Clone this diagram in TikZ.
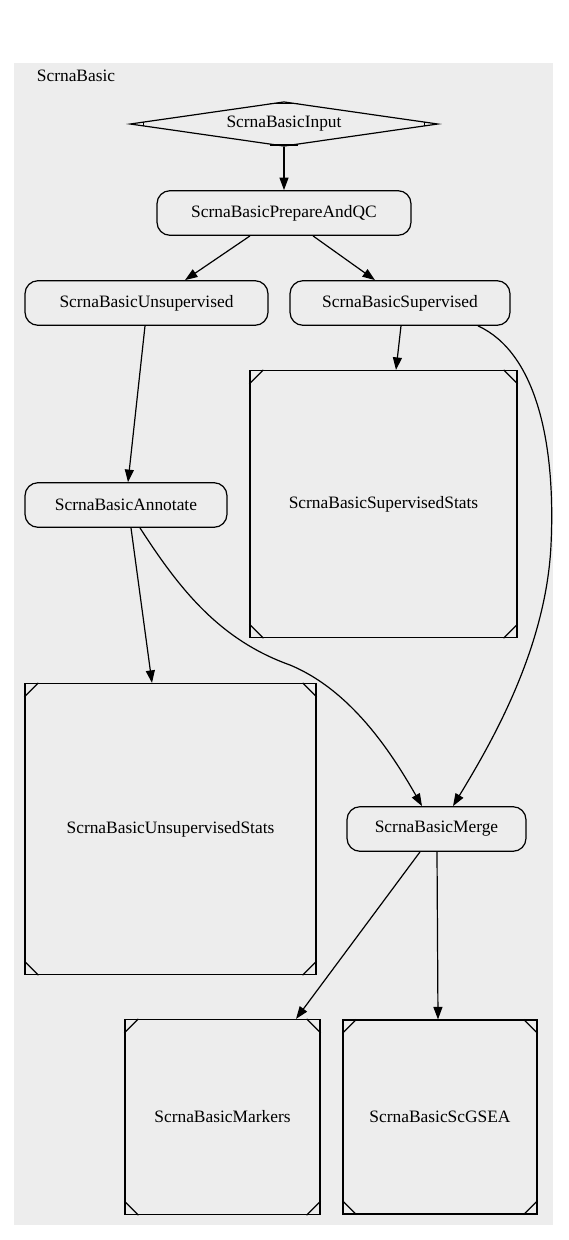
\documentclass[tikz,border=0pt]{standalone}
\usepackage{fontspec}
\setmainfont{Liberation Serif}
\usetikzlibrary{arrows.meta,shapes.geometric}
\definecolor{clusterbg}{RGB}{237,237,237}

%% corner ticks of the "Msquare" and "Mdiamond" boxes
\def\msquareticks#1{%
    \draw (#1.north west) ++(14,0) -- ++(-14,14);
    \draw (#1.north east) ++(-14,0) -- ++(14,14);
    \draw (#1.south west) ++(14,0) -- ++(-14,-14);
    \draw (#1.south east) ++(-14,0) -- ++(14,-14);}
\def\mdiamondticks#1{%
    \draw (#1.north) ++(-14,2) -- ++(28,0);
    \draw (#1.south) ++(-14,-2) -- ++(28,0);
    \draw (#1.west) ++(14,-2) -- ++(0,4);
    \draw (#1.east) ++(-14,-2) -- ++(0,4);}

\begin{document}
\begin{tikzpicture}[x=1pt,y=-1pt,line width=1.2pt,
    font=\fontsize{17.4}{20}\selectfont,
    task/.style={draw, rectangle, rounded corners=13pt, minimum height=44.6pt, inner sep=0pt},
    statbox/.style={draw, rectangle, inner sep=0pt},
    flow/.style={-{Triangle[length=12.5pt 0 0,width=9pt 0 0]}}]
    \useasboundingbox (0,0) rectangle (568,1240);

    %% The cluster
    \fill[clusterbg] (14,63) rectangle (553,1225);
    \draw (76,76) node (cluster) {ScrnaBasic};

    %% Input and first steps
    \draw (284,124) node [diamond, draw, aspect=6.9, minimum width=308pt, minimum height=44.6pt, inner sep=0pt] (input) {ScrnaBasicInput};
    \mdiamondticks{input}
    \draw (284,213) node [task, minimum width=254pt] (prepqc) {ScrnaBasicPrepareAndQC};
    \draw (146.5,303) node [task, minimum width=243pt] (unsup) {ScrnaBasicUnsupervised};
    \draw (400,303) node [task, minimum width=220pt] (sup) {ScrnaBasicSupervised};

    %% Middle ranks
    \draw (383.5,504) node [statbox, minimum size=267pt] (supstats) {ScrnaBasicSupervisedStats};
    \msquareticks{supstats}
    \draw (126,505) node [task, minimum width=202pt] (annot) {ScrnaBasicAnnotate};
    \draw (170.5,829) node [statbox, minimum size=291pt] (unsupstats) {ScrnaBasicUnsupervisedStats};
    \msquareticks{unsupstats}
    \draw (436.5,829) node [task, minimum width=179pt] (merge) {ScrnaBasicMerge};

    %% Last rank
    \draw (222.5,1117) node [statbox, minimum size=195pt] (markers) {ScrnaBasicMarkers};
    \msquareticks{markers}
    \draw (440,1117) node [statbox, minimum size=194pt] (scgsea) {ScrnaBasicScGSEA};
    \msquareticks{scgsea}

    %% Edges
    \path [flow] (input) edge (prepqc);
    \path [flow] ([xshift=-34pt]prepqc.south) edge ([xshift=38.5pt]unsup.north);
    \path [flow] ([xshift=29pt]prepqc.south) edge ([xshift=-25pt]sup.north);
    \path [flow] ([xshift=-1.5pt]unsup.south) edge ([xshift=2pt]annot.north);
    \path [flow] ([xshift=1pt]sup.south) edge ([xshift=12.5pt]supstats.north);
    \draw [flow] ([xshift=78pt]sup.south) .. controls (535,352) and (556,440) .. (551,545)
        .. controls (546,650) and (490,745) .. ([xshift=16.5pt]merge.north);
    \path [flow] ([xshift=5pt]annot.south) edge ([xshift=-18.5pt]unsupstats.north);
    \draw [flow] ([xshift=14pt]annot.south) .. controls (180,590) and (220,640) .. (290,665)
        .. controls (350,690) and (390,750) .. ([xshift=-14.5pt]merge.north);
    \path [flow] ([xshift=-16.5pt]merge.south) edge ([xshift=73.5pt]markers.north);
    \path [flow] ([xshift=0.5pt]merge.south) edge ([xshift=-2pt]scgsea.north);

\end{tikzpicture}
\end{document}
